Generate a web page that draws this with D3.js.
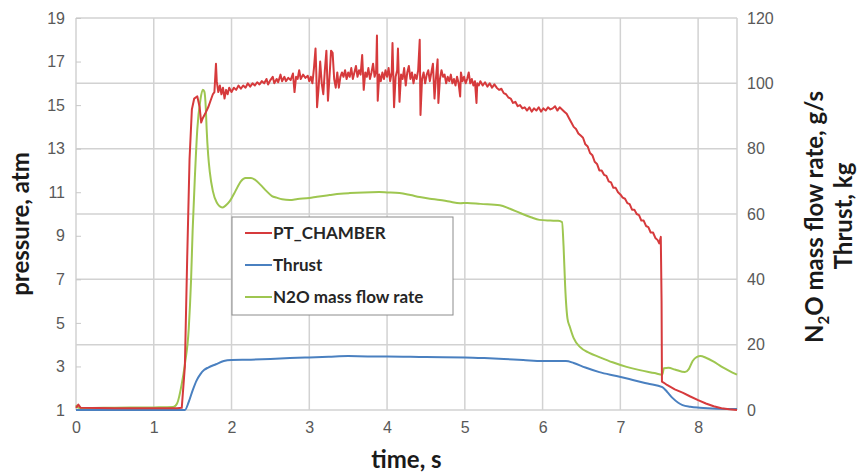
<!DOCTYPE html>
<html>
<head>
<meta charset="utf-8">
<script src="https://cdn.jsdelivr.net/npm/d3@7"></script>
<style>
  body { margin: 0; background: #fff; }
  svg { font-family: Lato, 'Open Sans', sans-serif; }
  .tick text { fill: #595959; font-size: 16px; }
  .axis-title { font-weight: bold; font-size: 24px; fill: #1a1a1a; }
  .legend text { font-weight: bold; font-size: 17px; fill: #262626; }
</style>
</head>
<body>
<svg id="chart" width="858" height="476"></svg>
<script>
// time, s / pressure, atm  (left axis)
const chamberPressure = [
  [0, 1.1], [0.03, 1.25], [0.06, 1.1], [0.5, 1.08], [1.0, 1.08], [1.3, 1.08], [1.36, 1.1],
  [1.40, 3.0], [1.43, 8.0], [1.46, 12.5], [1.49, 14.8], [1.52, 15.3], [1.56, 15.4], [1.59, 14.9],
  [1.61, 14.2], [1.63, 14.4], [1.66, 14.6], [1.70, 14.9], [1.73, 15.2], [1.76, 15.5], [1.78, 15.6],
  [1.80, 16.9], [1.81, 16.1], [1.83, 15.6], [1.85, 15.9], [1.87, 15.5], [1.89, 15.8], [1.91, 15.3],
  [1.93, 15.7], [1.95, 15.5], [1.97, 15.8], [2.0, 15.6], [2.03, 15.8], [2.06, 15.7], [2.09, 15.9],
  [2.12, 15.75], [2.15, 15.9], [2.18, 15.8], [2.21, 16.0], [2.24, 15.85], [2.27, 16.0], [2.30, 15.9],
  [2.33, 16.05], [2.36, 15.95], [2.39, 16.1], [2.42, 16.0], [2.45, 16.2], [2.47, 15.95], [2.50, 16.15],
  [2.53, 16.3], [2.55, 16.0], [2.58, 16.2], [2.60, 16.05], [2.63, 16.4], [2.65, 16.1], [2.68, 16.3],
  [2.70, 16.1], [2.73, 16.25], [2.76, 16.15], [2.79, 16.45], [2.81, 15.6], [2.83, 16.3], [2.85, 16.2],
  [2.87, 16.6], [2.89, 16.2], [2.92, 16.4], [2.95, 16.25], [2.98, 16.35], [3.0, 16.1], [3.02, 16.3],
  [3.04, 16.0], [3.06, 16.7], [3.08, 17.6], [3.09, 16.5], [3.10, 14.9], [3.12, 15.8], [3.14, 17.0],
  [3.16, 16.0], [3.18, 15.5], [3.20, 16.6], [3.22, 17.5], [3.24, 15.2], [3.26, 16.3], [3.28, 17.5],
  [3.30, 17.4], [3.32, 16.2], [3.34, 15.8], [3.36, 16.5], [3.38, 15.8], [3.40, 16.3], [3.42, 16.5],
  [3.44, 16.3], [3.46, 16.6], [3.48, 16.2], [3.50, 16.5], [3.52, 16.3], [3.54, 16.7], [3.56, 16.2],
  [3.58, 16.5], [3.60, 16.8], [3.62, 16.3], [3.64, 16.6], [3.66, 16.4], [3.68, 17.3], [3.70, 15.7],
  [3.72, 16.5], [3.74, 16.3], [3.76, 16.7], [3.78, 16.2], [3.80, 16.5], [3.82, 16.9], [3.84, 16.3],
  [3.86, 16.6], [3.87, 18.2], [3.88, 15.2], [3.90, 16.4], [3.92, 16.1], [3.94, 16.5], [3.96, 16.2],
  [3.98, 16.6], [4.0, 16.3], [4.02, 16.7], [4.04, 16.1], [4.06, 16.5], [4.07, 17.85], [4.09, 14.9],
  [4.11, 16.3], [4.13, 16.6], [4.14, 17.6], [4.16, 15.15], [4.18, 16.4], [4.20, 16.2], [4.22, 16.7],
  [4.24, 15.9], [4.26, 16.5], [4.28, 16.8], [4.30, 16.2], [4.32, 16.5], [4.34, 16.0], [4.36, 16.4],
  [4.38, 16.2], [4.40, 16.6], [4.42, 18.0], [4.43, 14.55], [4.45, 16.2], [4.47, 16.5], [4.49, 16.0],
  [4.51, 16.4], [4.53, 16.6], [4.55, 16.1], [4.57, 16.5], [4.59, 16.9], [4.61, 15.3], [4.63, 16.3],
  [4.65, 17.1], [4.66, 15.1], [4.68, 16.2], [4.70, 16.6], [4.72, 16.3], [4.74, 16.4], [4.76, 16.0],
  [4.78, 16.3], [4.80, 16.1], [4.82, 16.4], [4.84, 16.0], [4.86, 16.2], [4.88, 15.9], [4.90, 16.3],
  [4.92, 16.0], [4.94, 15.4], [4.95, 16.5], [4.97, 16.1], [4.99, 16.3], [5.01, 16.0], [5.03, 16.2],
  [5.05, 16.5], [5.07, 16.0], [5.09, 16.2], [5.11, 15.9], [5.13, 16.1], [5.15, 15.1], [5.16, 16.0],
  [5.18, 15.9], [5.20, 16.1], [5.23, 15.9], [5.26, 16.05], [5.29, 15.85], [5.32, 16.0], [5.35, 15.8],
  [5.38, 15.95], [5.41, 15.8], [5.44, 15.7], [5.47, 15.75], [5.50, 15.55], [5.53, 15.5], [5.56, 15.35],
  [5.59, 15.3], [5.62, 15.1], [5.65, 15.15], [5.68, 14.95], [5.71, 15.0], [5.74, 14.85], [5.77, 14.9],
  [5.80, 14.75], [5.83, 14.9], [5.86, 14.7], [5.89, 14.85], [5.92, 14.75], [5.95, 14.9], [5.98, 14.7],
  [6.01, 14.85], [6.04, 14.75], [6.07, 14.9], [6.10, 14.8], [6.13, 14.85], [6.16, 14.95], [6.19, 14.75],
  [6.22, 14.9], [6.25, 14.8], [6.28, 14.7], [6.31, 14.6], [6.34, 14.4], [6.37, 14.2], [6.40, 14.0],
  [6.43, 13.9], [6.46, 13.7], [6.49, 13.6], [6.52, 13.5], [6.55, 13.2], [6.58, 13.1], [6.61, 12.8],
  [6.64, 12.7], [6.67, 12.4], [6.70, 12.3], [6.73, 12.0], [6.76, 12.0], [6.79, 11.8], [6.82, 11.75],
  [6.85, 11.5], [6.88, 11.45], [6.91, 11.2], [6.94, 11.2], [6.97, 11.0], [7.00, 10.9], [7.03, 10.75],
  [7.06, 10.7], [7.09, 10.5], [7.12, 10.45], [7.15, 10.2], [7.18, 10.2], [7.21, 10.0], [7.24, 9.95],
  [7.27, 9.7], [7.30, 9.7], [7.33, 9.45], [7.36, 9.4], [7.39, 9.15], [7.42, 9.15], [7.45, 8.9],
  [7.48, 8.8], [7.50, 8.65], [7.52, 8.95], [7.53, 6.0], [7.535, 2.3], [7.56, 2.25], [7.6, 2.15],
  [7.65, 2.05], [7.7, 1.95], [7.8, 1.8], [7.9, 1.62], [8.0, 1.45], [8.1, 1.3], [8.2, 1.17],
  [8.3, 1.08], [8.4, 1.03], [8.5, 1.0]
]

// time, s / thrust, kg  (right axis)
const thrust = [
  [0, 0], [1.4, 0], [1.45, 2.5], [1.5, 6], [1.55, 9], [1.6, 11], [1.65, 12.3], [1.7, 13],
  [1.8, 14], [1.9, 15], [2.0, 15.3], [2.25, 15.4], [2.5, 15.6], [2.75, 15.9], [3.0, 16.1],
  [3.25, 16.3], [3.5, 16.5], [3.75, 16.4], [4.0, 16.4], [4.5, 16.2], [5.0, 16.1], [5.25, 15.9],
  [5.5, 15.6], [5.75, 15.3], [6.0, 15.0], [6.3, 15.0], [6.4, 14.4], [6.55, 13.0], [6.73, 11.6],
  [6.95, 10.4], [7.16, 9.2], [7.35, 8.1], [7.54, 7.0], [7.6, 5.6], [7.67, 3.7], [7.74, 2.3],
  [7.8, 1.5], [7.9, 1.0], [8.02, 0.7], [8.25, 0.4], [8.5, 0.3]
]

// time, s / N2O mass flow rate, g/s  (right axis)
const n2oFlow = [
  [0, 1.5], [0.03, 0.7], [0.1, 0.6], [0.5, 0.7], [1.0, 0.8], [1.25, 0.9], [1.3, 2], [1.36, 8],
  [1.4, 14], [1.45, 25], [1.48, 40], [1.5, 55], [1.53, 72], [1.56, 86], [1.6, 95], [1.63, 98],
  [1.65, 97.5], [1.67, 92], [1.68, 86], [1.70, 78], [1.72, 73], [1.76, 67], [1.81, 63.5], [1.88, 62],
  [1.92, 62.5], [1.98, 64], [2.05, 67], [2.12, 70], [2.18, 71], [2.25, 71], [2.30, 70.5], [2.37, 69],
  [2.45, 67], [2.52, 65.5], [2.58, 65], [2.65, 64.5], [2.75, 64.3], [2.85, 64.6], [3.0, 64.9],
  [3.1, 65.3], [3.26, 65.8], [3.4, 66.2], [3.52, 66.4], [3.7, 66.6], [3.9, 66.7], [4.0, 66.6],
  [4.16, 66.4], [4.3, 65.8], [4.42, 65.2], [4.55, 64.7], [4.68, 64.3], [4.8, 63.8], [4.94, 63.3],
  [5.03, 63.4], [5.2, 63.1], [5.45, 62.7], [5.58, 61.6], [5.71, 60.3], [5.85, 59], [5.96, 58.2],
  [6.1, 58], [6.2, 57.9], [6.25, 57.5], [6.27, 50], [6.29, 38], [6.32, 28], [6.35, 25.5], [6.4, 22],
  [6.48, 19.3], [6.6, 17.5], [6.73, 16.2], [6.9, 14.6], [7.08, 13.2], [7.25, 12.2], [7.44, 11.3],
  [7.54, 10.8], [7.56, 12.8], [7.62, 12.9], [7.7, 12.4], [7.83, 11.6], [7.88, 12.5], [7.93, 15.0],
  [7.98, 16.2], [8.03, 16.5], [8.1, 16.0], [8.2, 14.8], [8.3, 13.3], [8.4, 12.0], [8.5, 10.8]
]

const xTicks = [0, 1, 2, 3, 4, 5, 6, 7, 8]
const leftTicks = [1, 3, 5, 7, 9, 11, 13, 15, 17, 19]
const rightTicks = [0, 20, 40, 60, 80, 100, 120]
const legendLabels = ['PT_CHAMBER', 'Thrust', 'N2O mass flow rate']

const colors = { red: '#d63a3c', blue: '#4a80c0', green: '#9ec650' }
const margin = { top: 18, right: 121, bottom: 66, left: 76 }
const width = 858 - margin.left - margin.right
const height = 476 - margin.top - margin.bottom

const svg = d3.select('#chart')
const g = svg.append('g').attr('transform', 'translate(' + margin.left + ',' + margin.top + ')')

const xScale = d3.scaleLinear().domain([0, 8.5]).range([0, width])
const yLeft = d3.scaleLinear().domain([1, 19]).range([height, 0])
const yRight = d3.scaleLinear().domain([0, 120]).range([height, 0])

/**
 * Draws the grey grid of the plot area (horizontal lines follow the right axis)
 */
function drawGrid () {
  const grid = g.append('g').attr('stroke', '#d2d2d2').attr('stroke-width', 1.5)
  grid.selectAll('.h').data(rightTicks).join('line')
    .attr('x1', 0).attr('x2', width)
    .attr('y1', d => yRight(d)).attr('y2', d => yRight(d))
  grid.selectAll('.v').data(xTicks.concat([8.5])).join('line')
    .attr('x1', d => xScale(d)).attr('x2', d => xScale(d))
    .attr('y1', 0).attr('y2', height)
}

/**
 * Draws the three axes, without domain lines
 */
function drawAxes () {
  g.append('g').attr('transform', 'translate(0,' + height + ')')
    .call(d3.axisBottom(xScale).tickValues(xTicks).tickSize(0).tickPadding(12).tickFormat(d3.format('d')))
  g.append('g')
    .call(d3.axisLeft(yLeft).tickValues(leftTicks).tickSizeInner(-5).tickSizeOuter(0).tickPadding(11))
    .selectAll('.tick line').attr('stroke', '#c8c8c8')
  g.append('g').attr('transform', 'translate(' + width + ',0)')
    .call(d3.axisRight(yRight).tickValues(rightTicks).tickSize(0).tickPadding(10))
  g.selectAll('.domain').remove()
}

/**
 * Draws one series as a line
 *
 * @param {number[][]} data Pairs of [time, value]
 * @param {*} yScale The y scale of the series
 * @param {string} color Line color
 */
function drawLine (data, yScale, color, curve, strokeWidth) {
  const line = d3.line()
    .x(d => xScale(d[0]))
    .y(d => yScale(d[1]))
    .curve(curve)
  g.append('path').datum(data)
    .attr('fill', 'none')
    .attr('stroke', color)
    .attr('stroke-width', strokeWidth)
    .attr('stroke-linejoin', 'round')
    .attr('d', line)
}

function drawTitles () {
  svg.append('text').attr('class', 'axis-title')
    .attr('text-anchor', 'middle')
    .attr('transform', 'translate(29,' + (margin.top + height / 2 + 10) + ') rotate(-90)')
    .text('pressure, atm')
  svg.append('text').attr('class', 'axis-title')
    .attr('text-anchor', 'middle')
    .attr('x', margin.left + width / 2).attr('y', 468)
    .text('time, s')
  const right = svg.append('text').attr('class', 'axis-title')
    .attr('text-anchor', 'middle')
    .attr('transform', 'translate(823,217) rotate(-90)')
  right.append('tspan').text('N')
  right.append('tspan').attr('dy', 6).style('font-size', '15px').text('2')
  right.append('tspan').attr('dy', -6).text('O mass flow rate, g/s')
  svg.append('text').attr('class', 'axis-title')
    .attr('text-anchor', 'middle')
    .attr('transform', 'translate(852,216) rotate(-90)')
    .text('Thrust, kg')
}

function drawLegend () {
  const lg = svg.append('g').attr('class', 'legend').attr('transform', 'translate(232,217)')
  lg.append('rect').attr('width', 221).attr('height', 98)
    .attr('fill', '#fff').attr('stroke', '#8c8c8c').attr('stroke-width', 1)
  const rows = lg.selectAll('.row').data(legendLabels).join('g')
    .attr('transform', (d, i) => 'translate(0,' + (16 + i * 32) + ')')
  rows.append('line').attr('x1', 13).attr('x2', 40)
    .attr('stroke', (d, i) => [colors.red, colors.blue, colors.green][i]).attr('stroke-width', 2)
  rows.append('text').attr('x', 41).attr('dy', '0.36em').text(d => d)
}

drawGrid()
drawAxes()
drawLine(n2oFlow, yRight, colors.green, d3.curveMonotoneX, 2)
drawLine(thrust, yRight, colors.blue, d3.curveMonotoneX, 2)
drawLine(chamberPressure, yLeft, colors.red, d3.curveLinear, 2)
drawTitles()
drawLegend()
</script>
</body>
</html>
